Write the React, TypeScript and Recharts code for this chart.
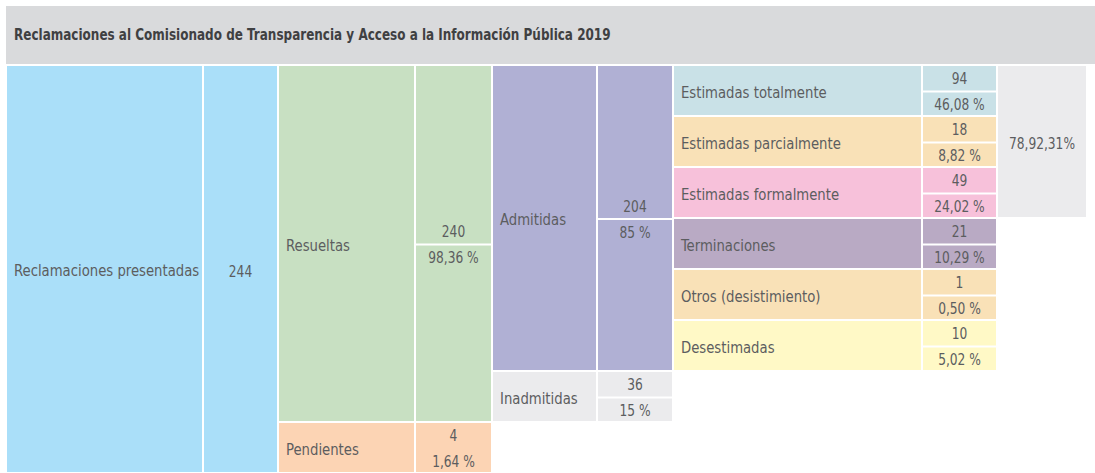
import React from "react";
import { BarChart, Bar, XAxis, YAxis } from "recharts";

const TITLE =
  "Reclamaciones al Comisionado de Transparencia y Acceso a la Información Pública 2019";

const TOTAL_LABEL = "Reclamaciones presentadas";
const TOTAL_VALUE = "244";

const STATUS_LABELS = ["Resueltas", "Pendientes"];
const STATUS_VALUES = ["240", "4"];
const STATUS_PCTS = ["98,36 %", "1,64 %"];

const ADMISSION_LABELS = ["Admitidas", "Inadmitidas"];
const ADMISSION_VALUES = ["204", "36"];
const ADMISSION_PCTS = ["85 %", "15 %"];

const OUTCOME_LABELS = [
  "Estimadas totalmente",
  "Estimadas parcialmente",
  "Estimadas formalmente",
  "Terminaciones",
  "Otros (desistimiento)",
  "Desestimadas",
];
const OUTCOME_VALUES = ["94", "18", "49", "21", "1", "10"];
const OUTCOME_PCTS = ["46,08 %", "8,82 %", "24,02 %", "10,29 %", "0,50 %", "5,02 %"];

const ESTIMATED_SHARE = "78,92,31%";

// layout: column widths (incl. 2px white gap) and row spans
const COL_WIDTHS = [197, 75, 137, 77, 105, 76, 249, 75, 90];
const N_ROWS = 8;
const STATUS_SPANS = [7, 1];
const ADMISSION_SPANS = [6, 1];
const SHARE_SPAN = 3;

const BLUE = "#aadff9";
const STATUS_COLORS = ["#c8e0c2", "#fcd4b4"];
const ADMISSION_COLORS = ["#b0b0d4", "#ebebed"];
const OUTCOME_COLORS = ["#c9e1e7", "#f9e1b7", "#f7c1da", "#b9aac4", "#f9e1b7", "#fff9c6"];
const GREY = "#ebebed";
const TEXT = "#5c5d5f";
const FONT = "'DejaVu Sans Condensed', 'DejaVu Sans', sans-serif";

type CellDef = {
  col: number;
  row: number;
  span: number;
  fill: string;
  kind: "label" | "center" | "pair";
  text: string;
  sub?: string;
  split?: boolean;
};

const cells: CellDef[] = [];
cells.push({ col: 0, row: 0, span: N_ROWS, fill: BLUE, kind: "label", text: TOTAL_LABEL });
cells.push({ col: 1, row: 0, span: N_ROWS, fill: BLUE, kind: "center", text: TOTAL_VALUE });

let r0 = 0;
STATUS_LABELS.forEach((l, i) => {
  const span = STATUS_SPANS[i];
  cells.push({ col: 2, row: r0, span, fill: STATUS_COLORS[i], kind: "label", text: l });
  cells.push({
    col: 3, row: r0, span, fill: STATUS_COLORS[i], kind: "pair",
    text: STATUS_VALUES[i], sub: STATUS_PCTS[i], split: span > 1,
  });
  r0 += span;
});

r0 = 0;
ADMISSION_LABELS.forEach((l, i) => {
  const span = ADMISSION_SPANS[i];
  cells.push({ col: 4, row: r0, span, fill: ADMISSION_COLORS[i], kind: "label", text: l });
  cells.push({
    col: 5, row: r0, span, fill: ADMISSION_COLORS[i], kind: "pair",
    text: ADMISSION_VALUES[i], sub: ADMISSION_PCTS[i], split: true,
  });
  r0 += span;
});

OUTCOME_LABELS.forEach((l, i) => {
  cells.push({ col: 6, row: i, span: 1, fill: OUTCOME_COLORS[i], kind: "label", text: l });
  cells.push({
    col: 7, row: i, span: 1, fill: OUTCOME_COLORS[i], kind: "pair",
    text: OUTCOME_VALUES[i], sub: OUTCOME_PCTS[i], split: true,
  });
});

cells.push({ col: 8, row: 0, span: SHARE_SPAN, fill: GREY, kind: "center", text: ESTIMATED_SHARE });

// which cell starts at (row, col), and which grid slots are occupied
const starts: (CellDef | null)[][] = [];
const occupied: boolean[][] = [];
for (let r = 0; r < N_ROWS; r++) {
  starts.push(COL_WIDTHS.map(() => null));
  occupied.push(COL_WIDTHS.map(() => false));
}
cells.forEach((c) => {
  starts[c.row][c.col] = c;
  for (let r = c.row; r < c.row + c.span; r++) occupied[r][c.col] = true;
});

const data = occupied.map((cols, r) => {
  const d: Record<string, number> = { row: r };
  cols.forEach((on, c) => {
    d[`c${c}`] = on ? COL_WIDTHS[c] : 0;
  });
  return d;
});

// condensed text: DejaVu Sans Condensed squeezed horizontally
function Txt({ x, y, anchor = "start", sx = 0.92, children }: any) {
  return (
    <text
      transform={`translate(${x},${y}) scale(${sx},1)`}
      textAnchor={anchor}
      dominantBaseline="central"
      fontFamily={FONT}
      fontSize={16}
      fill={TEXT}
    >
      {children}
    </text>
  );
}

function makeShape(col: number) {
  return (props: any) => {
    const { x, y, width, height, payload } = props;
    const cell = starts[payload.row]?.[col];
    if (!cell || !width) return <g />;
    const w = width - 2;
    const h = height * cell.span - 2;
    const cy = y + h / 2;
    const mx = x + w / 2;
    return (
      <g>
        <rect x={x} y={y} width={w} height={h} fill={cell.fill} />
        {cell.kind === "label" && (
          <Txt x={x + 7} y={cy + 2}>
            {cell.text}
          </Txt>
        )}
        {cell.kind === "center" && (
          <Txt x={mx} y={cy + 2} anchor="middle" sx={0.85}>
            {cell.text}
          </Txt>
        )}
        {cell.kind === "pair" && (
          <>
            {cell.split && <rect x={x} y={cy} width={w} height={2} fill="#fff" />}
            <Txt x={mx} y={cy - 12} anchor="middle" sx={0.85}>
              {cell.text}
            </Txt>
            <Txt x={mx} y={cy + 14} anchor="middle" sx={0.85}>
              {cell.sub}
            </Txt>
          </>
        )}
      </g>
    );
  };
}

const totalWidth = COL_WIDTHS.reduce((a, b) => a + b, 0);

export default function App() {
  return (
    <div style={{ position: "relative", width: 1095, height: 473, overflow: "hidden", background: "#fff" }}>
      <style>{"body{margin:0}"}</style>
      <div
        style={{
          position: "absolute",
          left: 6,
          top: 6,
          width: 1089,
          height: 58,
          background: "#d9dadc",
          display: "flex",
          alignItems: "center",
          paddingLeft: 8,
          boxSizing: "border-box",
          fontFamily: FONT,
          fontWeight: 700,
          fontSize: 15,
          color: "#3f4042",
          whiteSpace: "nowrap",
        }}
      >
        <span style={{ display: "inline-block", transform: "scaleX(0.89)", transformOrigin: "left center" }}>
          {TITLE}
        </span>
      </div>
      <div style={{ position: "absolute", left: 0, top: 0 }}>
        <BarChart
          width={1095}
          height={474}
          data={data}
          layout="vertical"
          barCategoryGap={0}
          margin={{ top: 66, right: 1095 - 7 - totalWidth, bottom: 0, left: 7 }}
        >
          <XAxis type="number" domain={[0, totalWidth]} hide />
          <YAxis type="category" dataKey="row" hide />
          {COL_WIDTHS.map((_, c) => (
            <Bar
              key={c}
              dataKey={`c${c}`}
              stackId="t"
              isAnimationActive={false}
              shape={makeShape(c)}
            />
          ))}
        </BarChart>
      </div>
    </div>
  );
}
